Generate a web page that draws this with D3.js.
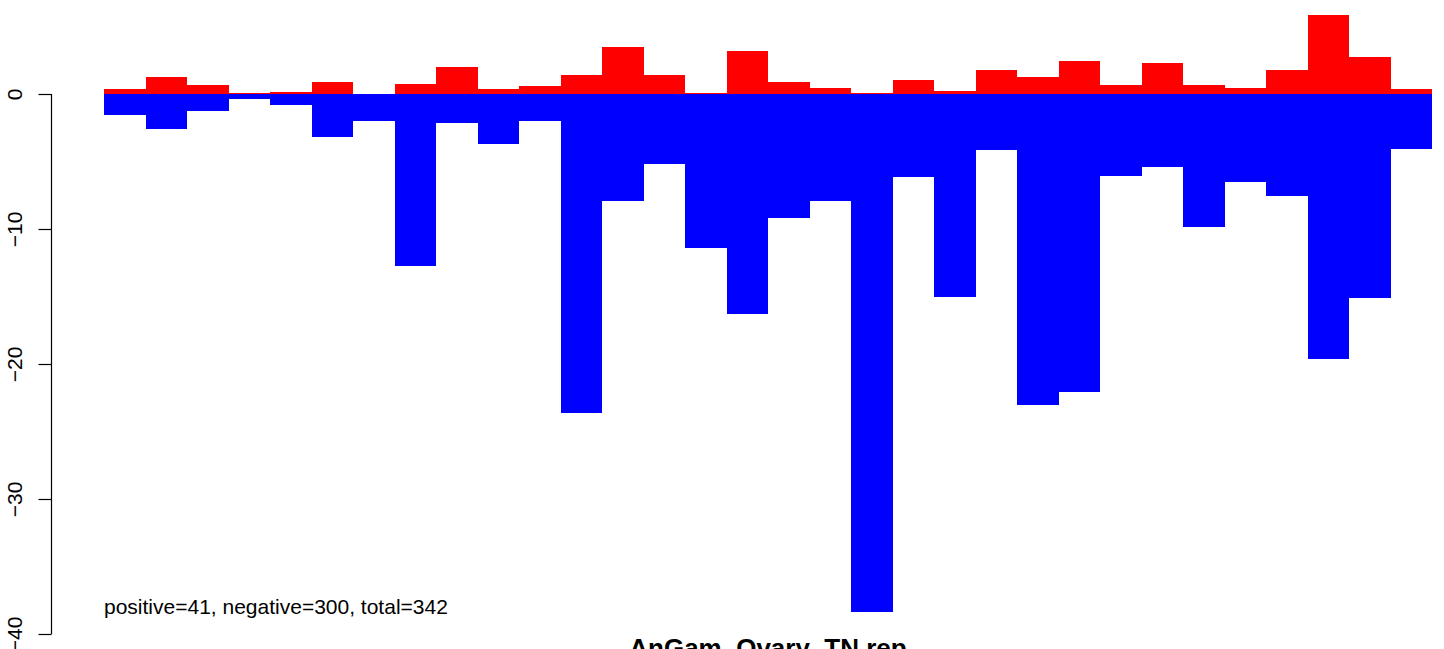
<!DOCTYPE html>
<html>
<head>
<meta charset="utf-8">
<script src="https://cdn.jsdelivr.net/npm/d3@7"></script>
<style>
  html, body { margin: 0; padding: 0; background: #ffffff; }
  svg { display: block; }
  text { font-family: "Liberation Sans", Arial, Helvetica, sans-serif; }
</style>
</head>
<body>
<div id="chart"></div>
<script>
// ---- data ----
const categories = d3.range(1, 33).map(String);
const positiveValues = [0.37, 1.26, 0.67, 0.07, 0.15, 0.89, 0, 0.74, 2.0, 0.37, 0.59, 1.41, 3.48, 1.41, 0.07, 3.19,
                        0.89, 0.44, 0.07, 1.04, 0.22, 1.78, 1.26, 2.44, 0.67, 2.30, 0.67, 0.44, 1.78, 5.85, 2.74, 0.37];
const negativeValues = [-1.56, -2.6, -1.26, -0.37, -0.81, -3.16, -2.0, -12.72, -2.15, -3.68, -2.0, -23.6, -7.9, -5.16, -11.38, -16.27,
                        -9.16, -7.9, -38.35, -6.15, -15.0, -4.15, -23.0, -22.07, -6.07, -5.41, -9.83, -6.52, -7.56, -19.6, -15.09, -4.05];
const yTicks = [0, -10, -20, -30, -40];
const summaryText = "positive=41, negative=300, total=342";
const titleText = "AnGam_Ovary_TN.rep";

// ---- layout ----
const W = 1444, H = 649;
const svg = d3.select("#chart").append("svg").attr("width", W).attr("height", H);
svg.append("rect").attr("width", W).attr("height", H).attr("fill", "#ffffff");

const x = d3.scaleBand().domain(categories).range([104, 1432]).padding(0);
const y = d3.scaleLinear().domain([-40, 0]).range([634, 94]);

// positive bars
svg.append("g").selectAll("rect").data(positiveValues).join("rect")
  .attr("x", (d, i) => x(categories[i]))
  .attr("width", x.bandwidth())
  .attr("y", d => y(d))
  .attr("height", d => y(0) - y(d))
  .attr("fill", "#ff0000")
  .attr("shape-rendering", "crispEdges");

// negative bars
svg.append("g").selectAll("rect").data(negativeValues).join("rect")
  .attr("x", (d, i) => x(categories[i]))
  .attr("width", x.bandwidth())
  .attr("y", y(0))
  .attr("height", d => y(d) - y(0))
  .attr("fill", "#0000ff")
  .attr("shape-rendering", "crispEdges");

// y axis
const axis = d3.axisLeft(y).tickValues(yTicks).tickSize(13).tickPadding(17)
  .tickFormat(d => d3.format("d")(d).replace("-", "\u2212"));
const gAxis = svg.append("g").attr("transform", "translate(51.5,0)").call(axis);
gAxis.select(".domain").attr("d", `M-13,${y(0)}H0V${y(-40)}H-13`).attr("stroke", "#000").attr("stroke-width", 1.2)
  .attr("d", `M0,${y(0)}V${y(-40)}`);
gAxis.selectAll(".tick line").attr("stroke", "#000").attr("stroke-width", 1.2);
gAxis.selectAll(".tick text")
  .attr("font-size", 21)
  .attr("fill", "#000")
  .attr("transform", function(d) { return `translate(-30,0) rotate(-90)`; })
  .attr("x", 0).attr("y", 0).attr("dy", 0)
  .attr("text-anchor", "middle");

// summary text
svg.append("text").attr("x", 104).attr("y", 614)
  .attr("font-size", 21).attr("fill", "#000").text(summaryText);

// title
svg.append("text").attr("x", (104 + 1432) / 2).attr("y", 657)
  .attr("text-anchor", "middle").attr("font-size", 26).attr("font-weight", "bold")
  .attr("fill", "#000").text(titleText);
</script>
</body>
</html>
